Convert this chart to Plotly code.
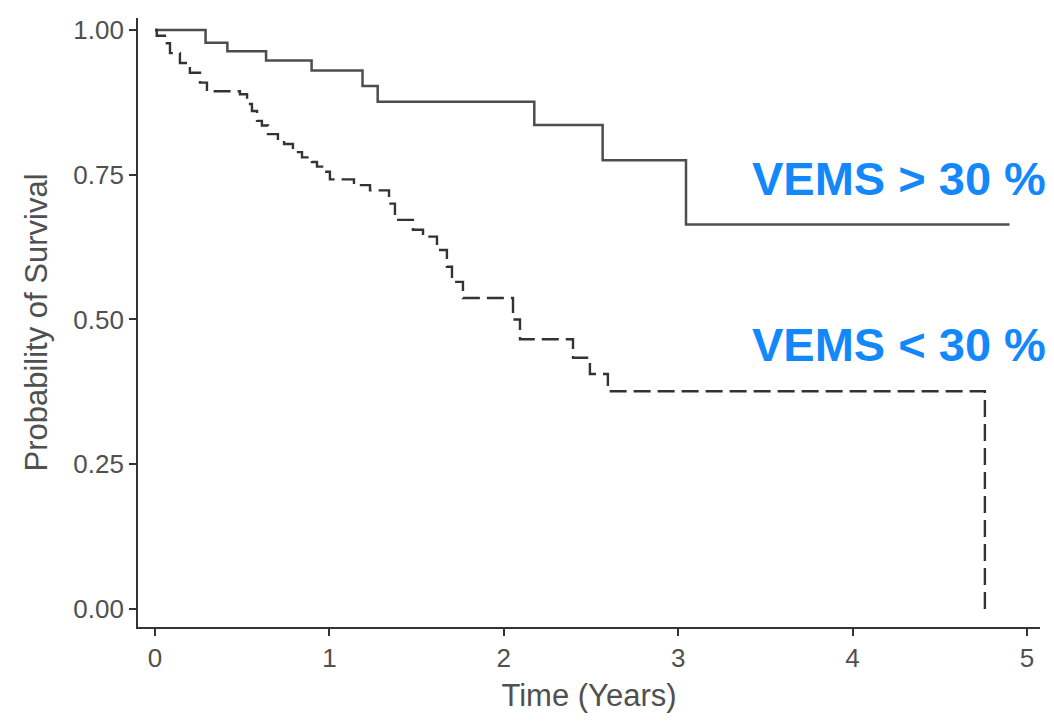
import plotly.graph_objects as go

# VEMS > 30 % (solid)
time_high = [0, 0.29, 0.415, 0.637, 0.898, 1.19, 1.277, 2.175, 2.567, 3.045, 4.90]
surv_high = [1.0, 0.978, 0.963, 0.947, 0.930, 0.903, 0.876, 0.836, 0.775, 0.664, 0.664]

# VEMS < 30 % (dashed)
time_low = [0, 0.01, 0.057, 0.086, 0.143, 0.20, 0.258, 0.298, 0.487, 0.528, 0.556, 0.585,
            0.613, 0.648, 0.705, 0.740, 0.791, 0.843, 0.900, 0.929, 0.975, 1.003, 1.141,
            1.233, 1.342, 1.376, 1.479, 1.537, 1.617, 1.674, 1.703, 1.766, 2.053, 2.093,
            2.397, 2.494, 2.597, 4.759]
surv_low = [1.0, 0.99, 0.977, 0.96, 0.943, 0.926, 0.909, 0.894, 0.889, 0.872, 0.860, 0.843,
            0.835, 0.820, 0.812, 0.803, 0.789, 0.780, 0.772, 0.764, 0.755, 0.742, 0.732,
            0.723, 0.700, 0.672, 0.655, 0.643, 0.620, 0.591, 0.565, 0.537, 0.500, 0.466,
            0.434, 0.406, 0.376, 0.0]

x_ticks = [0, 1, 2, 3, 4, 5]
y_ticks = [0.0, 0.25, 0.5, 0.75, 1.0]
y_tick_labels = ["0.00", "0.25", "0.50", "0.75", "1.00"]

labels = ["VEMS > 30 %", "VEMS < 30 %"]
label_y = [0.744, 0.457]

fig = go.Figure()
fig.add_trace(go.Scatter(x=time_high, y=surv_high, mode="lines", line_shape="hv",
                         line=dict(color="#4d4d4d", width=2.5), showlegend=False))
fig.add_trace(go.Scatter(x=time_low, y=surv_low, mode="lines", line_shape="hv",
                         line=dict(color="#333333", width=2.4, dash="17px,7px"), showlegend=False))

for txt, yy in zip(labels, label_y):
    fig.add_annotation(x=1.0, xref="paper", xanchor="right", xshift=8, y=yy, yref="y",
                       yanchor="middle", text=f"<b>{txt}</b>", showarrow=False,
                       font=dict(family="Liberation Sans, Arial", size=47, color="#1388fb"))

tick_font = dict(family="Liberation Sans, Arial", size=26, color="#505050")
title_font = dict(family="Liberation Sans, Arial", size=31, color="#505050")
fig.update_layout(
    width=1046, height=713,
    margin=dict(l=130, r=14, t=7, b=94),
    plot_bgcolor="white", paper_bgcolor="white",
    xaxis=dict(range=[-0.0975, 5.075], tickvals=x_ticks, ticks="outside", ticklen=7,
               tickwidth=1.5, tickcolor="#333333", showline=True, linecolor="#333333",
               linewidth=1.8, showgrid=False, zeroline=False, tickfont=tick_font,
               title=dict(text="Time (Years)", font=title_font, standoff=12)),
    yaxis=dict(range=[-0.031, 1.0206], tickvals=y_ticks, ticktext=y_tick_labels, ticks="outside",
               ticklen=7, tickwidth=1.5, tickcolor="#333333", showline=True, linecolor="#333333",
               linewidth=1.8, showgrid=False, zeroline=False, tickfont=tick_font,
               title=dict(text="Probability of Survival", font=title_font, standoff=16)),
)

fig.write_html("out.html")
